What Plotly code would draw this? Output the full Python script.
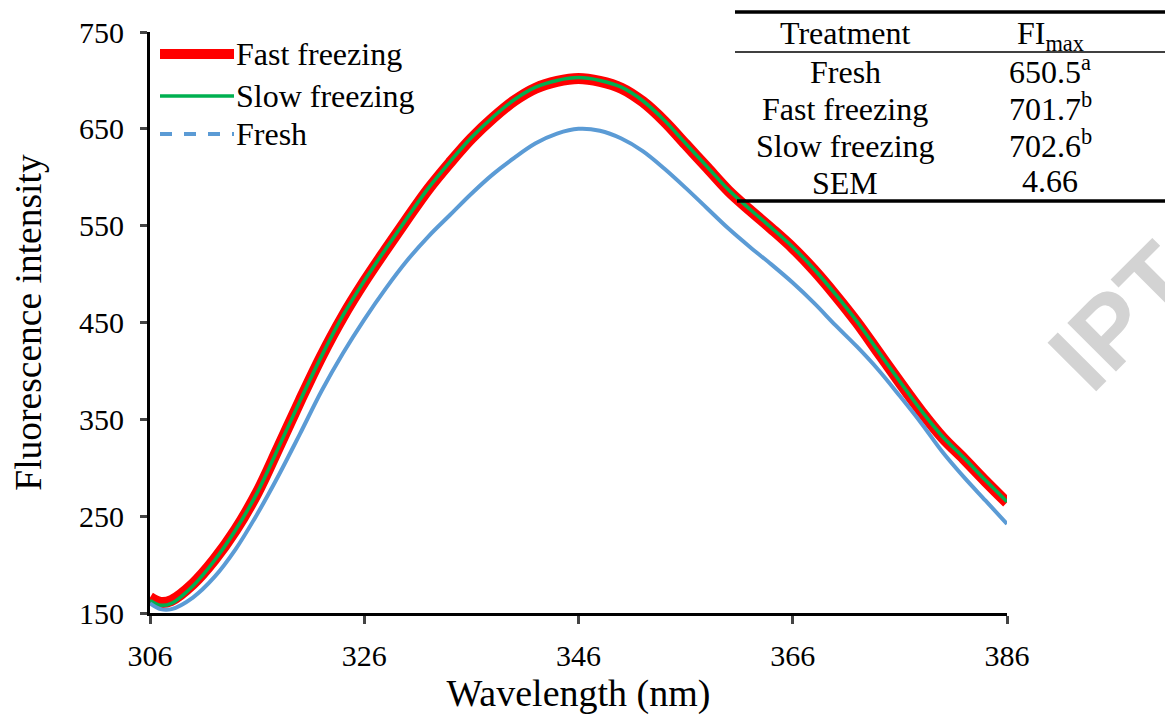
import plotly.graph_objects as go

# ---- data ----
wavelength = [306, 307, 308, 310, 312, 314, 316, 318, 320, 322, 324, 326, 328, 330, 332, 334,
              336, 338, 340, 342, 344, 346, 348, 350, 352, 354, 356, 358, 360, 362, 364, 366,
              368, 370, 372, 374, 376, 378, 380, 382, 384, 386]

fast_freezing = [166, 161, 163, 180, 205, 236, 274, 321, 369, 415, 456, 492, 525, 557, 588, 615,
                 640, 661, 679, 692, 699, 702, 699, 692, 678, 658, 634, 610, 586, 566, 547, 527,
                 504, 478, 450, 419, 388, 358, 331, 309, 286, 264]

slow_freezing = [163, 158, 160, 178, 204, 236, 274, 321, 369, 415, 457, 493, 526, 558, 589, 616,
                 641, 662, 680, 693, 700, 703, 700, 693, 679, 659, 635, 611, 587, 567, 548, 528,
                 505, 479, 451, 420, 389, 359, 332, 310, 287, 265]

fresh = [160, 154, 154, 166, 187, 216, 252, 292, 335, 379, 418, 453, 485, 514, 539, 561,
         583, 603, 620, 635, 645, 650, 648, 640, 627, 609, 589, 568, 547, 528, 510, 491,
         470, 447, 425, 401, 374, 346, 316, 290, 266, 242]

series_names = ["Fast freezing", "Slow freezing", "Fresh"]

x_ticks = [306, 326, 346, 366, 386]
y_ticks = [150, 250, 350, 450, 550, 650, 750]

table_treatments = ["Fresh", "Fast freezing", "Slow freezing", "SEM"]
table_fimax = ["650.5<sup>a</sup>", "701.7<sup>b</sup>", "702.6<sup>b</sup>", "4.66"]

RED = "#FF0000"
GREEN = "#00B050"
BLUE = "#5B9BD5"
FONT = "Liberation Serif"

fig = go.Figure()

fig.add_trace(go.Scatter(x=wavelength, y=fast_freezing, mode="lines", name=series_names[0],
                         line=dict(color=RED, width=11, shape="spline", smoothing=1),
                         showlegend=False))
fig.add_trace(go.Scatter(x=wavelength, y=slow_freezing, mode="lines", name=series_names[1],
                         line=dict(color=GREEN, width=3.5, shape="spline", smoothing=1),
                         showlegend=False))
fig.add_trace(go.Scatter(x=wavelength, y=fresh, mode="lines", name=series_names[2],
                         line=dict(color=BLUE, width=4, shape="spline", smoothing=1),
                         showlegend=False))

W, H = 1165, 717
L, R, T, B = 150, 158, 32, 104
pw, ph = W - L - R, H - T - B


def px(xp):
    return (xp - L) / pw


def py(yp):
    return (H - B - yp) / ph


fig.update_layout(
    width=W, height=H,
    margin=dict(l=L, r=R, t=T, b=B, pad=0),
    paper_bgcolor="white", plot_bgcolor="white",
    font=dict(family=FONT, size=30, color="black"),
    xaxis=dict(range=[306, 386], tickvals=x_ticks, ticks="outside", ticklen=8, tickwidth=3,
               showline=True, linecolor="black", linewidth=3, showgrid=False, zeroline=False,
               ticklabelstandoff=6,
               tickfont=dict(size=30), title=dict(text="Wavelength (nm)", font=dict(size=38), standoff=3)),
    yaxis=dict(range=[150, 750], tickvals=y_ticks, ticks="outside", ticklen=7, tickwidth=3,
               showline=True, linecolor="black", linewidth=3, showgrid=False, zeroline=False,
               ticklabelstandoff=10,
               tickfont=dict(size=30), title=dict(text="Fluorescence intensity", font=dict(size=37.5), standoff=26)),
    showlegend=False,
)

shapes = []
# legend (drawn as key lines + labels)
legend_styles = [dict(color=RED, width=10), dict(color=GREEN, width=3.5),
                 dict(color=BLUE, width=4, dash="dash")]
legend_rows = [54, 96, 134]
for name, st, yy in zip(series_names, legend_styles, legend_rows):
    shapes.append(dict(type="line", xref="paper", yref="paper", x0=px(160), x1=px(234),
                       y0=py(yy), y1=py(yy), line=st))
    fig.add_annotation(x=px(234), y=py(yy), xref="paper", yref="paper", text=name,
                       xanchor="left", yanchor="middle", showarrow=False, font=dict(size=32))

# table
shapes += [
    dict(type="line", xref="paper", yref="paper", x0=px(735), x1=px(1165), y0=py(12), y1=py(12),
         line=dict(color="black", width=3.5)),
    dict(type="line", xref="paper", yref="paper", x0=px(735), x1=px(1165), y0=py(52), y1=py(52),
         line=dict(color="black", width=1.5)),
    dict(type="line", xref="paper", yref="paper", x0=px(737), x1=px(1165), y0=py(201), y1=py(201),
         line=dict(color="black", width=3.5)),
]
fig.update_layout(shapes=shapes)

fig.add_annotation(x=px(845), y=py(33), xref="paper", yref="paper", text="Treatment",
                   xanchor="center", yanchor="middle", showarrow=False, font=dict(size=32))
fig.add_annotation(x=px(1050), y=py(35), xref="paper", yref="paper", text="FI<sub>max</sub>",
                   xanchor="center", yanchor="middle", showarrow=False, font=dict(size=32))
row_y = [72, 109, 146, 183]
for name, val, yy in zip(table_treatments, table_fimax, row_y):
    fig.add_annotation(x=px(845), y=py(yy), xref="paper", yref="paper", text=name,
                       xanchor="center", yanchor="middle", showarrow=False, font=dict(size=32))
    fig.add_annotation(x=px(1050), y=py(yy - 2), xref="paper", yref="paper", text=val,
                       xanchor="center", yanchor="middle", showarrow=False, font=dict(size=32))

# watermark fragment (partially outside the page, as in the reference)
fig.add_annotation(x=px(1122), y=py(316), xref="paper", yref="paper", text="<b>IPT</b>",
                   xanchor="center", yanchor="middle", showarrow=False, textangle=-45,
                   font=dict(family="Liberation Sans", size=100, color="#D3D3D3"))

fig.write_html("out.html", post_script="document.body.style.margin='0px';",
               config={"displayModeBar": False})
